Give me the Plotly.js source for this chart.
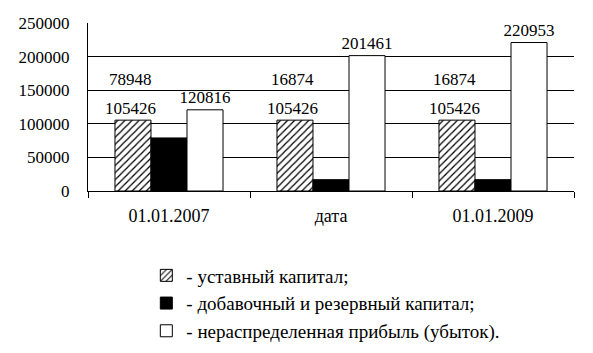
<!DOCTYPE html>
<html><head><meta charset="utf-8">
<script src="https://cdn.plot.ly/plotly-3.0.1.min.js"></script>
<style>html,body{margin:0;padding:0;background:#fff;}#chart{width:593px;height:353px;}</style>
</head><body><div id="chart"></div>
<script>
var categories = ['01.01.2007', 'дата', '01.01.2009'];
var ustavny = [105426, 105426, 105426];
var dobavochny = [78948, 16874, 16874];
var neraspred = [120816, 201461, 220953];
var seriesNames = ['- уставный капитал;', '- добавочный и резервный капитал;', '- нераспределенная прибыль (убыток).'];
var yTicks = [0, 50000, 100000, 150000, 200000, 250000];

function F(sz) { return {family: 'Liberation Serif', size: sz || 17, color: '#000'}; }

var traces = [
  {type: 'bar', x: categories, y: ustavny, name: seriesNames[0], legendgroup: 'a',
   marker: {color: '#fff', line: {color: '#000', width: 1}, pattern: {shape: '/', fgcolor: '#000', bgcolor: '#fff', size: 5, solidity: 0.25}}},
  {type: 'bar', x: categories, y: dobavochny, name: seriesNames[1], legendgroup: 'b',
   marker: {color: '#000', line: {color: '#000', width: 1}}},
  {type: 'bar', x: categories, y: neraspred, name: seriesNames[2], legendgroup: 'c',
   marker: {color: '#fff', line: {color: '#000', width: 1}},
   text: neraspred.map(String), textposition: 'outside', cliponaxis: false, constraintext: 'none',
   textfont: F(), outsidetextfont: F()}
];

var annotations = [];
categories.forEach(function(c, i) {
  annotations.push({x: c, y: ustavny[i], xref: 'x', yref: 'y', text: String(ustavny[i]), showarrow: false,
          xshift: -39, yshift: 12, yanchor: 'middle', font: F()});
  annotations.push({x: c, y: ustavny[i], xref: 'x', yref: 'y', text: String(dobavochny[i]), showarrow: false,
          xshift: -39, yshift: 41, yanchor: 'middle', font: F()});
});

var layout = {
  width: 593, height: 353,
  margin: {l: 88, r: 19, t: 23, b: 162, autoexpand: false},
  paper_bgcolor: '#fff', plot_bgcolor: '#fff',
  font: F(),
  barmode: 'group', bargap: 0.333, bargroupgap: 0,
  showlegend: true,
  legend: {x: 0.12, y: -0.39, xanchor: 'left', yanchor: 'top', orientation: 'v',
           traceorder: 'normal', tracegroupgap: 0, font: F(19), bgcolor: 'rgba(0,0,0,0)'},
  xaxis: {type: 'category', showline: true, linecolor: '#000', linewidth: 1, ticks: 'outside', tickson: 'boundaries',
          ticklen: 6, tickcolor: '#000', ticklabelstandoff: 8, showgrid: false, tickfont: F(18), mirror: false},
  yaxis: {range: [0, 250000], tickvals: yTicks, ticktext: yTicks.map(String), showline: true, linecolor: '#000', linewidth: 1,
          showgrid: true, gridcolor: '#000', gridwidth: 1, ticks: '', ticklabelstandoff: 14, tickfont: F(17), zeroline: false},
  annotations: annotations
};

Plotly.newPlot('chart', traces, layout, {displayModeBar: false, staticPlot: true});
</script>
</body></html>
